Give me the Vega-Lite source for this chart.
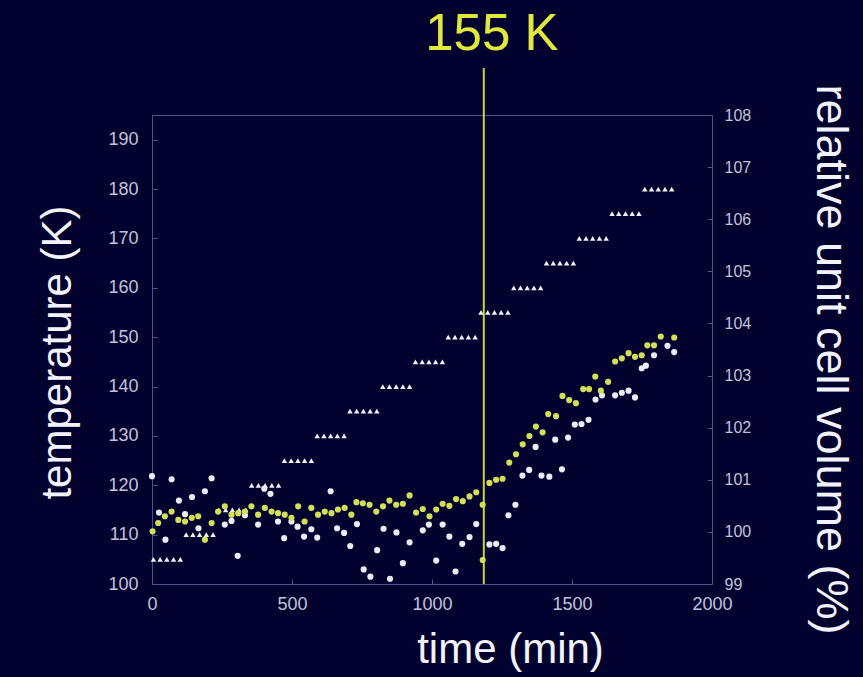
{
  "$schema": "https://vega.github.io/schema/vega-lite/v6.json",
  "width": 560,
  "height": 469,
  "autosize": {"type": "none"},
  "padding": {"left": 152, "top": 115, "right": 151, "bottom": 93},
  "background": "#03022f",
  "config": {
    "font": "Liberation Sans",
    "view": {"stroke": "#505090", "strokeWidth": 1},
    "axis": {
      "domain": false,
      "grid": false,
      "labelFlush": false,
      "tickColor": "#505090",
      "tickSize": -5,
      "labelColor": "#c2c2da",
      "labelFont": "Liberation Sans",
      "titleColor": "#f2f2fa",
      "titleFont": "Liberation Sans",
      "titleFontWeight": "normal"
    }
  },
  "datasets": {
    "marker": [{"time": 1185, "label": "155 K"}],
    "setpoints": [
      {"time": 5, "temperature": 105}, {"time": 29, "temperature": 105}, {"time": 53, "temperature": 105}, {"time": 77, "temperature": 105}, {"time": 101, "temperature": 105},
      {"time": 122, "temperature": 110}, {"time": 146, "temperature": 110}, {"time": 170, "temperature": 110}, {"time": 194, "temperature": 110}, {"time": 218, "temperature": 110},
      {"time": 239, "temperature": 115}, {"time": 263, "temperature": 115}, {"time": 287, "temperature": 115}, {"time": 311, "temperature": 115}, {"time": 335, "temperature": 115},
      {"time": 356, "temperature": 120}, {"time": 380, "temperature": 120}, {"time": 404, "temperature": 120}, {"time": 428, "temperature": 120}, {"time": 452, "temperature": 120},
      {"time": 473, "temperature": 125}, {"time": 497, "temperature": 125}, {"time": 521, "temperature": 125}, {"time": 545, "temperature": 125}, {"time": 569, "temperature": 125},
      {"time": 590, "temperature": 130}, {"time": 614, "temperature": 130}, {"time": 638, "temperature": 130}, {"time": 662, "temperature": 130}, {"time": 686, "temperature": 130},
      {"time": 707, "temperature": 135}, {"time": 731, "temperature": 135}, {"time": 755, "temperature": 135}, {"time": 779, "temperature": 135}, {"time": 803, "temperature": 135},
      {"time": 824, "temperature": 140}, {"time": 848, "temperature": 140}, {"time": 872, "temperature": 140}, {"time": 896, "temperature": 140}, {"time": 920, "temperature": 140},
      {"time": 941, "temperature": 145}, {"time": 965, "temperature": 145}, {"time": 989, "temperature": 145}, {"time": 1013, "temperature": 145}, {"time": 1037, "temperature": 145},
      {"time": 1058, "temperature": 150}, {"time": 1082, "temperature": 150}, {"time": 1106, "temperature": 150}, {"time": 1130, "temperature": 150}, {"time": 1154, "temperature": 150},
      {"time": 1175, "temperature": 155}, {"time": 1199, "temperature": 155}, {"time": 1223, "temperature": 155}, {"time": 1247, "temperature": 155}, {"time": 1271, "temperature": 155},
      {"time": 1292, "temperature": 160}, {"time": 1316, "temperature": 160}, {"time": 1340, "temperature": 160}, {"time": 1364, "temperature": 160}, {"time": 1388, "temperature": 160},
      {"time": 1409, "temperature": 165}, {"time": 1433, "temperature": 165}, {"time": 1457, "temperature": 165}, {"time": 1481, "temperature": 165}, {"time": 1505, "temperature": 165},
      {"time": 1526, "temperature": 170}, {"time": 1550, "temperature": 170}, {"time": 1574, "temperature": 170}, {"time": 1598, "temperature": 170}, {"time": 1622, "temperature": 170},
      {"time": 1643, "temperature": 175}, {"time": 1667, "temperature": 175}, {"time": 1691, "temperature": 175}, {"time": 1715, "temperature": 175}, {"time": 1739, "temperature": 175},
      {"time": 1760, "temperature": 180}, {"time": 1784, "temperature": 180}, {"time": 1808, "temperature": 180}, {"time": 1832, "temperature": 180}, {"time": 1856, "temperature": 180}
    ],
    "cells": [
      {"time": 0, "volume": 101.07, "run": "1"}, {"time": 25, "volume": 100.37, "run": "1"}, {"time": 48, "volume": 99.85, "run": "1"}, {"time": 70, "volume": 101.01, "run": "1"},
      {"time": 96, "volume": 100.6, "run": "1"}, {"time": 118, "volume": 100.34, "run": "1"}, {"time": 143, "volume": 100.67, "run": "1"}, {"time": 166, "volume": 100.07, "run": "1"},
      {"time": 189, "volume": 100.78, "run": "1"}, {"time": 213, "volume": 101.03, "run": "1"}, {"time": 260, "volume": 100.14, "run": "1"}, {"time": 284, "volume": 100.21, "run": "1"},
      {"time": 306, "volume": 99.54, "run": "1"}, {"time": 332, "volume": 100.32, "run": "1"}, {"time": 379, "volume": 100.14, "run": "1"}, {"time": 401, "volume": 100.83, "run": "1"},
      {"time": 423, "volume": 100.73, "run": "1"}, {"time": 450, "volume": 100.2, "run": "1"}, {"time": 472, "volume": 99.88, "run": "1"}, {"time": 498, "volume": 100.2, "run": "1"},
      {"time": 520, "volume": 100.1, "run": "1"}, {"time": 543, "volume": 99.91, "run": "1"}, {"time": 569, "volume": 100.05, "run": "1"}, {"time": 590, "volume": 99.89, "run": "1"},
      {"time": 638, "volume": 100.78, "run": "1"}, {"time": 661, "volume": 100.07, "run": "1"}, {"time": 686, "volume": 99.98, "run": "1"}, {"time": 708, "volume": 99.73, "run": "1"},
      {"time": 732, "volume": 100.15, "run": "1"}, {"time": 756, "volume": 99.28, "run": "1"}, {"time": 780, "volume": 99.14, "run": "1"}, {"time": 804, "volume": 99.65, "run": "1"},
      {"time": 827, "volume": 100.06, "run": "1"}, {"time": 850, "volume": 99.1, "run": "1"}, {"time": 873, "volume": 99.99, "run": "1"}, {"time": 896, "volume": 99.4, "run": "1"},
      {"time": 920, "volume": 99.8, "run": "1"}, {"time": 967, "volume": 100.03, "run": "1"}, {"time": 989, "volume": 100.14, "run": "1"}, {"time": 1015, "volume": 99.45, "run": "1"},
      {"time": 1038, "volume": 100.14, "run": "1"}, {"time": 1062, "volume": 99.91, "run": "1"}, {"time": 1084, "volume": 99.24, "run": "1"}, {"time": 1108, "volume": 99.77, "run": "1"},
      {"time": 1134, "volume": 99.9, "run": "1"}, {"time": 1158, "volume": 100.15, "run": "1"}, {"time": 1205, "volume": 99.76, "run": "1"}, {"time": 1229, "volume": 99.77, "run": "1"},
      {"time": 1252, "volume": 99.69, "run": "1"}, {"time": 1273, "volume": 100.32, "run": "1"}, {"time": 1298, "volume": 100.52, "run": "1"}, {"time": 1323, "volume": 101.08, "run": "1"},
      {"time": 1347, "volume": 101.19, "run": "1"}, {"time": 1370, "volume": 101.63, "run": "1"}, {"time": 1391, "volume": 101.08, "run": "1"}, {"time": 1419, "volume": 101.06, "run": "1"},
      {"time": 1440, "volume": 101.77, "run": "1"}, {"time": 1464, "volume": 101.2, "run": "1"}, {"time": 1486, "volume": 101.81, "run": "1"}, {"time": 1510, "volume": 102.06, "run": "1"},
      {"time": 1534, "volume": 102.07, "run": "1"}, {"time": 1559, "volume": 102.15, "run": "1"}, {"time": 1584, "volume": 102.54, "run": "1"}, {"time": 1607, "volume": 102.62, "run": "1"},
      {"time": 1654, "volume": 102.62, "run": "1"}, {"time": 1678, "volume": 102.67, "run": "1"}, {"time": 1702, "volume": 102.71, "run": "1"}, {"time": 1725, "volume": 102.58, "run": "1"},
      {"time": 1749, "volume": 103.14, "run": "1"}, {"time": 1764, "volume": 103.19, "run": "1"}, {"time": 1793, "volume": 103.39, "run": "1"}, {"time": 1841, "volume": 103.57, "run": "1"},
      {"time": 1865, "volume": 103.45, "run": "1"},
      {"time": 2, "volume": 100.01, "run": "2"}, {"time": 22, "volume": 100.17, "run": "2"}, {"time": 46, "volume": 100.3, "run": "2"}, {"time": 70, "volume": 100.39, "run": "2"},
      {"time": 94, "volume": 100.23, "run": "2"}, {"time": 118, "volume": 100.2, "run": "2"}, {"time": 142, "volume": 100.27, "run": "2"}, {"time": 165, "volume": 100.3, "run": "2"},
      {"time": 189, "volume": 99.85, "run": "2"}, {"time": 213, "volume": 100.17, "run": "2"}, {"time": 236, "volume": 100.39, "run": "2"}, {"time": 260, "volume": 100.49, "run": "2"},
      {"time": 284, "volume": 100.33, "run": "2"}, {"time": 308, "volume": 100.36, "run": "2"}, {"time": 332, "volume": 100.39, "run": "2"}, {"time": 355, "volume": 100.49, "run": "2"},
      {"time": 379, "volume": 100.33, "run": "2"}, {"time": 403, "volume": 100.46, "run": "2"}, {"time": 427, "volume": 100.39, "run": "2"}, {"time": 450, "volume": 100.36, "run": "2"},
      {"time": 474, "volume": 100.33, "run": "2"}, {"time": 498, "volume": 100.27, "run": "2"}, {"time": 522, "volume": 100.49, "run": "2"}, {"time": 545, "volume": 100.2, "run": "2"},
      {"time": 569, "volume": 100.46, "run": "2"}, {"time": 593, "volume": 100.33, "run": "2"}, {"time": 617, "volume": 100.39, "run": "2"}, {"time": 641, "volume": 100.36, "run": "2"},
      {"time": 664, "volume": 100.43, "run": "2"}, {"time": 688, "volume": 100.46, "run": "2"}, {"time": 712, "volume": 100.33, "run": "2"}, {"time": 730, "volume": 100.57, "run": "2"},
      {"time": 753, "volume": 100.55, "run": "2"}, {"time": 777, "volume": 100.52, "run": "2"}, {"time": 801, "volume": 100.39, "run": "2"}, {"time": 825, "volume": 100.49, "run": "2"},
      {"time": 848, "volume": 100.6, "run": "2"}, {"time": 872, "volume": 100.52, "run": "2"}, {"time": 896, "volume": 100.54, "run": "2"}, {"time": 920, "volume": 100.7, "run": "2"},
      {"time": 943, "volume": 100.37, "run": "2"}, {"time": 967, "volume": 100.44, "run": "2"}, {"time": 991, "volume": 100.3, "run": "2"}, {"time": 1015, "volume": 100.43, "run": "2"},
      {"time": 1038, "volume": 100.54, "run": "2"}, {"time": 1062, "volume": 100.5, "run": "2"}, {"time": 1086, "volume": 100.63, "run": "2"}, {"time": 1110, "volume": 100.59, "run": "2"},
      {"time": 1134, "volume": 100.68, "run": "2"}, {"time": 1158, "volume": 100.76, "run": "2"}, {"time": 1181, "volume": 100.52, "run": "2"}, {"time": 1181, "volume": 99.46, "run": "2"},
      {"time": 1205, "volume": 100.94, "run": "2"}, {"time": 1229, "volume": 101.0, "run": "2"}, {"time": 1252, "volume": 101.02, "run": "2"}, {"time": 1276, "volume": 101.33, "run": "2"},
      {"time": 1300, "volume": 101.49, "run": "2"}, {"time": 1324, "volume": 101.68, "run": "2"}, {"time": 1348, "volume": 101.84, "run": "2"}, {"time": 1371, "volume": 102.02, "run": "2"},
      {"time": 1395, "volume": 101.91, "run": "2"}, {"time": 1415, "volume": 102.26, "run": "2"}, {"time": 1443, "volume": 102.22, "run": "2"}, {"time": 1466, "volume": 102.61, "run": "2"},
      {"time": 1490, "volume": 102.53, "run": "2"}, {"time": 1514, "volume": 102.47, "run": "2"}, {"time": 1540, "volume": 102.74, "run": "2"}, {"time": 1561, "volume": 102.74, "run": "2"},
      {"time": 1583, "volume": 102.98, "run": "2"}, {"time": 1603, "volume": 102.71, "run": "2"}, {"time": 1629, "volume": 102.88, "run": "2"}, {"time": 1654, "volume": 103.27, "run": "2"},
      {"time": 1678, "volume": 103.33, "run": "2"}, {"time": 1702, "volume": 103.43, "run": "2"}, {"time": 1725, "volume": 103.36, "run": "2"}, {"time": 1749, "volume": 103.39, "run": "2"},
      {"time": 1769, "volume": 103.58, "run": "2"}, {"time": 1793, "volume": 103.58, "run": "2"}, {"time": 1817, "volume": 103.75, "run": "2"}, {"time": 1865, "volume": 103.73, "run": "2"}
    ]
  },
  "encoding": {
    "x": {
      "field": "time",
      "type": "quantitative",
      "scale": {"domain": [0, 2000], "nice": false, "zero": false},
      "axis": {
        "values": [0, 500, 1000, 1500, 2000],
        "format": "d",
        "labelFontSize": 18,
        "labelPadding": 16,
        "title": "time (min)",
        "titleFontSize": 42,
        "titleX": 358,
        "titleY": 78,
        "titleAlign": "center",
        "titleBaseline": "alphabetic"
      }
    }
  },
  "layer": [
    {
      "layer": [
        {
          "data": {"name": "marker"},
          "mark": {"type": "rule", "color": "#c8d23a", "strokeWidth": 2},
          "encoding": {
            "y": {"datum": 204.5, "type": "quantitative", "scale": {"domain": [100, 195], "nice": false, "zero": false}},
            "y2": {"datum": 100}
          }
        },
        {
          "data": {"name": "marker"},
          "mark": {"type": "text", "color": "#e0e83c", "fontSize": 51, "font": "Liberation Sans", "align": "center", "baseline": "middle", "dx": 8},
          "encoding": {
            "y": {"datum": 211.3, "type": "quantitative", "scale": {"domain": [100, 195], "nice": false, "zero": false}},
            "text": {"field": "label"}
          }
        },
        {
          "data": {"name": "setpoints"},
          "mark": {"type": "point", "shape": "triangle-up", "filled": true, "color": "#f0f0fa", "size": 30, "opacity": 1},
          "encoding": {
            "y": {
              "field": "temperature",
              "type": "quantitative",
              "scale": {"domain": [100, 195], "nice": false, "zero": false},
              "axis": {
                "orient": "left",
                "values": [100, 110, 120, 130, 140, 150, 160, 170, 180, 190],
                "labelFontSize": 18,
                "labelPadding": 19,
                "title": "temperature (K)",
                "titleFontSize": 42,
                "titleAngle": -90,
                "titleX": -82,
                "titleY": 237,
                "titleAlign": "center",
                "titleBaseline": "alphabetic"
              }
            }
          }
        }
      ]
    },
    {
      "data": {"name": "cells"},
      "mark": {"type": "circle", "size": 38, "opacity": 1},
      "encoding": {
        "y": {
          "field": "volume",
          "type": "quantitative",
          "scale": {"domain": [99, 108], "nice": false, "zero": false},
          "axis": {
            "orient": "right",
            "values": [99, 100, 101, 102, 103, 104, 105, 106, 107, 108],
            "labelFontSize": 16,
            "labelPadding": 17,
            "title": "relative unit cell volume (%)",
            "titleFontSize": 45,
            "titleAngle": 90,
            "titleX": 104,
            "titleY": 244,
            "titleAlign": "center",
            "titleBaseline": "alphabetic"
          }
        },
        "color": {
          "field": "run",
          "type": "nominal",
          "scale": {"domain": ["1", "2"], "range": ["#ececf8", "#d3e055"]},
          "legend": null
        }
      }
    }
  ],
  "resolve": {"scale": {"y": "independent"}}
}
